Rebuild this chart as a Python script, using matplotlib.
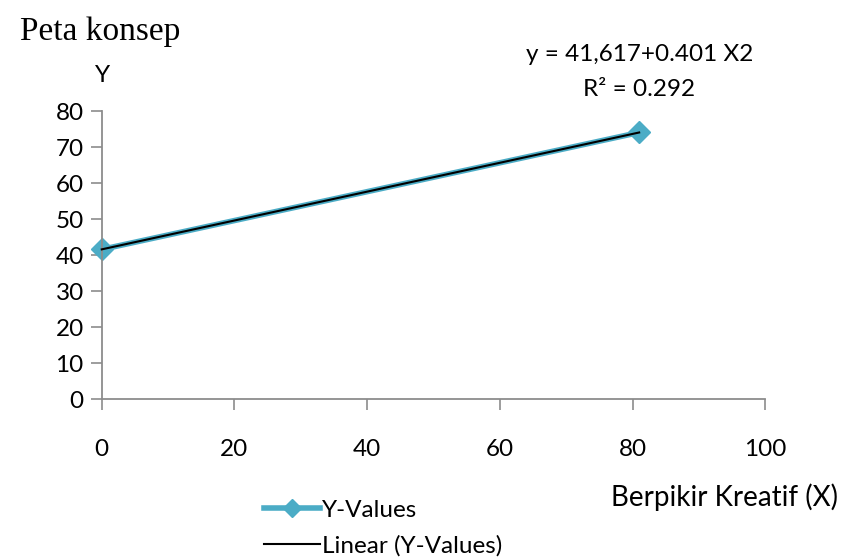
import numpy as np
import matplotlib.pyplot as plt
from matplotlib.lines import Line2D

# data
x_vals = [0, 81]
y_vals = [41.6, 74.1]
intercept = 41.617
slope = 0.401
x_ticks = [0, 20, 40, 60, 80, 100]
y_ticks = [0, 10, 20, 30, 40, 50, 60, 70, 80]

teal = "#4bacc6"
grey = "#8c8c8c"
sans = ["Lato", "DejaVu Sans"]

fig = plt.figure(figsize=(8.55, 5.59), dpi=100)
ax = fig.add_axes([0.119, 0.286, 0.776, 0.515])

ax.plot(x_vals, y_vals, color=teal, linewidth=4, marker="D", markersize=11,
        markeredgecolor=teal, zorder=2)
xt = np.array(x_vals, dtype=float)
ax.plot(xt, intercept + slope * xt, color="black", linewidth=1.5, zorder=3)

ax.set_xlim(0, 100)
ax.set_ylim(0, 80)
ax.set_xticks(x_ticks)
ax.set_yticks(y_ticks)
ax.spines["top"].set_visible(False)
ax.spines["right"].set_visible(False)
for s in ("left", "bottom"):
    ax.spines[s].set_color(grey)
    ax.spines[s].set_linewidth(1.3)
ax.tick_params(axis="both", colors=grey, width=1.2, length=8, labelcolor="black",
               labelsize=17.5)
ax.tick_params(axis="x", pad=21)
ax.tick_params(axis="y", pad=5)
for lab in ax.get_xticklabels() + ax.get_yticklabels():
    lab.set_family(sans)
for ln in ax.lines:
    ln.set_clip_on(False)

# texts
fig.text(0.023, 0.943, "Peta konsep", family="Liberation Serif", fontsize=24,
         va="center", ha="left")
fig.text(0.12, 0.865, "Y", family=sans, fontsize=17.5, ha="center", va="center")
fig.text(0.748, 0.902, "y = 41,617+0.401 X2", family=sans, fontsize=17.5,
         ha="center", va="center")
fig.text(0.748, 0.84, "R² = 0.292", family=sans, fontsize=17.5,
         ha="center", va="center")
fig.text(0.98, 0.11, "Berpikir Kreatif (X)", family=sans, fontsize=20,
         ha="right", va="center")

handles = [Line2D([], [], color=teal, linewidth=4, marker="D", markersize=9),
           Line2D([], [], color="black", linewidth=1.5)]
fig.legend(handles, ["Y-Values", "Linear (Y-Values)"], loc="center left",
           bbox_to_anchor=(0.283, 0.055), frameon=False, handlelength=2.3,
           handletextpad=0.1, labelspacing=0.6, prop={"family": sans, "size": 17.5})

fig.savefig("out.png", dpi=100)
